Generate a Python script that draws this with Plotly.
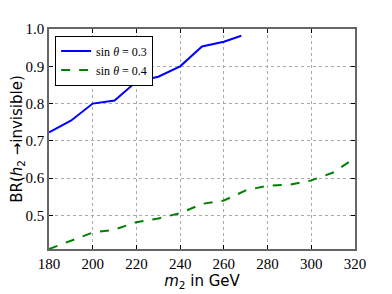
import plotly.graph_objects as go

m2_a = [180, 190, 200, 210, 220, 230, 240, 250, 260, 268]
br_a = [0.723, 0.754, 0.800, 0.808, 0.859, 0.872, 0.900, 0.953, 0.966, 0.982]

m2_b = [180, 190, 200, 210, 220, 230, 240, 250, 260, 270, 280, 290, 300, 310, 320]
br_b = [0.410, 0.431, 0.454, 0.462, 0.482, 0.492, 0.506, 0.531, 0.540, 0.567, 0.580, 0.582, 0.594, 0.615, 0.654]

name_a = "sin <i>θ</i> = 0.3"
name_b = "sin <i>θ</i> = 0.4"

x_ticks = [180, 200, 220, 240, 260, 280, 300, 320]
y_ticks = [0.5, 0.6, 0.7, 0.8, 0.9, 1.0]

fig = go.Figure()
fig.add_trace(go.Scatter(x=m2_a, y=br_a, mode="lines", name=name_a,
                         line=dict(color="#0000ff", width=2)))
fig.add_trace(go.Scatter(x=m2_b, y=br_b, mode="lines", name=name_b,
                         line=dict(color="#008000", width=2, dash="dash")))

serif = "Liberation Serif, serif"
sans = "DejaVu Sans, sans-serif"

fig.update_layout(
    width=384, height=286,
    margin=dict(l=41, r=37, t=21, b=45),
    paper_bgcolor="white", plot_bgcolor="white",
    font=dict(family=serif, size=15, color="#000000"),
    showlegend=True,
    legend=dict(x=0.02, y=0.97, xanchor="left", yanchor="top",
                bordercolor="#000000", borderwidth=1, bgcolor="white",
                font=dict(family=serif, size=12, color="#000000"),
                tracegroupgap=0, itemwidth=30),
)

fig.update_xaxes(
    range=[180, 320], tickvals=x_ticks, automargin=False,
    showline=True, linecolor="#666666", linewidth=1.5, mirror="allticks",
    ticks="inside", ticklen=4, tickcolor="#000000", tickwidth=1,
    showgrid=True, gridcolor="#aaaaaa", griddash="dot", gridwidth=1,
    zeroline=False, tickfont_family=serif, tickfont_size=15,
    title_text="<i>m</i><sub>2</sub> in GeV", title_standoff=4,
    title_font_family=sans, title_font_size=15,
)
fig.update_yaxes(
    range=[0.41, 1.0], tickvals=y_ticks, tickformat=".1f", automargin=False,
    showline=True, linecolor="#666666", linewidth=1.5, mirror="allticks",
    ticks="inside", ticklen=4, tickcolor="#000000", tickwidth=1,
    showgrid=True, gridcolor="#aaaaaa", griddash="dot", gridwidth=1,
    zeroline=False, tickfont_family=serif, tickfont_size=15,
    title_text="BR(<i>h</i><sub>2</sub> →invisible)", title_standoff=6,
    title_font_family=sans, title_font_size=15,
)

fig.write_html("out.html")
